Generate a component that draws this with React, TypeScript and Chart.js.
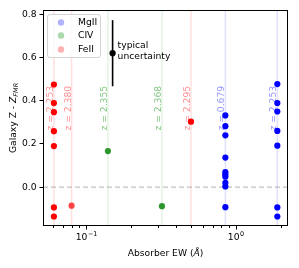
import React, { useEffect, useRef } from 'react';
import { Chart, registerables } from 'chart.js';
Chart.register(...registerables);

const FONT = "'DejaVu Sans', sans-serif";
const FS = 9.2;

// Axis limits
const X_MIN = 0.0513;
const X_MAX = 2.24;
const Y_MIN = -0.18;
const Y_MAX = 0.82;
const Y_TICKS = [0.0, 0.2, 0.4, 0.6, 0.8];
const X_MAJOR = [0.1, 1];
const X_MINOR = [0.06, 0.07, 0.08, 0.09, 0.2, 0.3, 0.4, 0.5, 0.6, 0.7, 0.8, 0.9, 2];
const X_MAJOR_EXP = ['\u22121', '0'];

// Absorbers (vertical lines + labels)
const absorberEW = [0.0607, 0.0797, 0.1395, 0.321, 0.502, 0.853, 1.9];
const absorberIon = ['FeII', 'FeII', 'CIV', 'CIV', 'FeII', 'MgII', 'MgII'];
const absorberZ = ['2.253', '2.380', '2.355', '2.368', '2.295', '0.679', '2.253'];
const LABEL_Y = 0.262;

// Galaxy points
const mgiiEW = [0.853, 0.853, 0.853, 0.853, 0.853, 0.853, 0.853, 0.853, 0.853, 0.853, 1.9, 1.9, 1.9, 1.9, 1.9, 1.9, 1.9];
const mgiiDZ = [0.332, 0.282, 0.24, 0.137, 0.069, 0.058, 0.048, 0.02, 0.003, -0.093, 0.477, 0.389, 0.35, 0.26, 0.192, -0.094, -0.136];
const civEW = [0.1395, 0.321];
const civDZ = [0.167, -0.088];
const feiiEW = [0.0607, 0.0607, 0.0607, 0.0607, 0.0607, 0.0607, 0.0607, 0.0797, 0.502];
const feiiDZ = [0.475, 0.389, 0.347, 0.259, 0.19, -0.094, -0.136, -0.086, 0.303];

// Typical uncertainty
const uncEW = 0.15;
const uncDZ = 0.62;
const uncErr = 0.153;

const legendLabels = ['MgII', 'CIV', 'FeII'];

const ionColor: Record<string, string> = { MgII: '0,0,255', CIV: '44,160,44', FeII: '255,0,0' };

const toPts = (xs: number[], ys: number[]) => xs.map((x, i) => ({ x, y: ys[i] }));

export default function App() {
  const ref = useRef<HTMLCanvasElement>(null);
  useEffect(() => {
    document.body.style.margin = '0';
    const canvas = ref.current!;

    const plugin = {
      id: 'custom',
      beforeDatasetsDraw(chart: any) {
        const ctx = chart.ctx;
        const xs = chart.scales.x, ys = chart.scales.y;
        ctx.save();
        ctx.font = `${FS}px ${FONT}`;
        ctx.textAlign = 'left';
        ctx.textBaseline = 'alphabetic';
        absorberEW.forEach((ew, i) => {
          const px = xs.getPixelForValue(ew);
          const py = ys.getPixelForValue(LABEL_Y);
          const c = ionColor[absorberIon[i]];
          const a = absorberIon[i] === 'CIV' ? 0.6 : 0.45;
          ctx.fillStyle = `rgba(${c},${a})`;
          ctx.save();
          ctx.translate(px - 1, py);
          ctx.rotate(-Math.PI / 2);
          ctx.fillText('z = ' + absorberZ[i], 0, 0);
          ctx.restore();
        });
        ctx.restore();
      },
      afterDraw(chart: any) {
        const ctx = chart.ctx;
        const xs = chart.scales.x, ys = chart.scales.y;
        const { left, right, top, bottom } = chart.chartArea;
        ctx.save();
        // uncertainty text
        ctx.fillStyle = '#000';
        ctx.font = `${FS}px ${FONT}`;
        ctx.textAlign = 'left';
        ctx.textBaseline = 'middle';
        const ux = xs.getPixelForValue(uncEW) + 5;
        const uy = ys.getPixelForValue(uncDZ);
        ctx.fillText('typical', ux, uy - 7.3);
        ctx.fillText('uncertainty', ux, uy + 3.7);

        // frame
        ctx.strokeStyle = '#000';
        ctx.lineWidth = 1;
        ctx.strokeRect(Math.round(left) + 0.5, Math.round(top) + 0.5, Math.round(right) - Math.round(left) - 1, Math.round(bottom) - Math.round(top) - 1);

        // x ticks
        const yb = Math.round(bottom);
        ctx.beginPath();
        X_MAJOR.forEach((v) => {
          const p = Math.round(xs.getPixelForValue(v)) + 0.5;
          ctx.moveTo(p, yb);
          ctx.lineTo(p, yb + 3.5);
        });
        X_MINOR.forEach((v) => {
          const p = Math.round(xs.getPixelForValue(v)) + 0.5;
          ctx.moveTo(p, yb);
          ctx.lineTo(p, yb + 2);
        });
        ctx.stroke();

        // x tick labels 10^e
        X_MAJOR.forEach((v, i) => {
          const p = xs.getPixelForValue(v);
          ctx.font = `${FS}px ${FONT}`;
          const w1 = ctx.measureText('10').width;
          ctx.font = `${FS * 0.7}px ${FONT}`;
          const w2 = ctx.measureText(X_MAJOR_EXP[i]).width;
          const x0 = p - (w1 + w2) / 2;
          const base = yb + 14;
          ctx.textAlign = 'left';
          ctx.textBaseline = 'alphabetic';
          ctx.font = `${FS}px ${FONT}`;
          ctx.fillText('10', x0, base);
          ctx.font = `${FS * 0.7}px ${FONT}`;
          ctx.fillText(X_MAJOR_EXP[i], x0 + w1 + 0.5, base - 4);
        });

        // x title
        {
          const parts = [
            { t: 'Absorber EW (', f: `${FS}px ${FONT}` },
            { t: '\u00c5', f: `italic ${FS}px ${FONT}` },
            { t: ')', f: `${FS}px ${FONT}` },
          ];
          let tw = 0;
          parts.forEach((p) => { ctx.font = p.f; tw += ctx.measureText(p.t).width; });
          let x = (left + right) / 2 - tw / 2;
          const base = 255.5;
          ctx.textBaseline = 'alphabetic';
          parts.forEach((p) => { ctx.font = p.f; ctx.fillText(p.t, x, base); x += ctx.measureText(p.t).width; });
        }

        // y title
        {
          const parts = [
            { t: 'Galaxy Z - ', f: `${FS}px ${FONT}`, dy: 0 },
            { t: 'Z', f: `italic ${FS}px ${FONT}`, dy: 0 },
            { t: 'FMR', f: `italic ${FS * 0.7}px ${FONT}`, dy: 2 },
          ];
          let tw = 0;
          parts.forEach((p) => { ctx.font = p.f; tw += ctx.measureText(p.t).width; });
          ctx.save();
          ctx.translate(15.5, (top + bottom) / 2);
          ctx.rotate(-Math.PI / 2);
          let x = -tw / 2;
          ctx.textBaseline = 'alphabetic';
          parts.forEach((p) => { ctx.font = p.f; ctx.fillText(p.t, x, p.dy); x += ctx.measureText(p.t).width; });
          ctx.restore();
        }

        // legend
        {
          const bx = 47.5, by = 14.5, bw = 53, bh = 43, r = 2.5;
          ctx.beginPath();
          ctx.moveTo(bx + r, by);
          ctx.arcTo(bx + bw, by, bx + bw, by + bh, r);
          ctx.arcTo(bx + bw, by + bh, bx, by + bh, r);
          ctx.arcTo(bx, by + bh, bx, by, r);
          ctx.arcTo(bx, by, bx + bw, by, r);
          ctx.closePath();
          ctx.fillStyle = 'rgba(255,255,255,0.8)';
          ctx.fill();
          ctx.strokeStyle = '#d3d3d3';
          ctx.lineWidth = 1;
          ctx.stroke();
          const rows = [22.5, 35.5, 49.5];
          const alphas = [0.3, 0.4, 0.3];
          legendLabels.forEach((lab, i) => {
            ctx.beginPath();
            ctx.arc(61, rows[i], 3.2, 0, Math.PI * 2);
            ctx.fillStyle = `rgba(${ionColor[lab]},${alphas[i]})`;
            ctx.fill();
            ctx.fillStyle = '#000';
            ctx.font = `${FS}px ${FONT}`;
            ctx.textAlign = 'left';
            ctx.textBaseline = 'middle';
            ctx.fillText(lab, 78, rows[i]);
          });
        }
        ctx.restore();
      },
    };

    const vlines = absorberEW.map((ew, i) => ({
      label: 'v' + i,
      data: [{ x: ew, y: Y_MIN }, { x: ew, y: Y_MAX }],
      showLine: true,
      borderColor: `rgba(${ionColor[absorberIon[i]]},0.12)`,
      borderWidth: 1.5,
      pointRadius: 0,
      order: 10,
    }));

    const chart = new Chart(canvas, {
      type: 'scatter',
      data: {
        datasets: [
          {
            label: 'MgII',
            data: toPts(mgiiEW, mgiiDZ),
            backgroundColor: 'rgb(0,0,255)',
            borderWidth: 0,
            pointRadius: 3.1,
            order: 1,
          },
          {
            label: 'CIV',
            data: toPts(civEW, civDZ),
            backgroundColor: 'rgb(44,150,44)',
            borderWidth: 0,
            pointRadius: 3.1,
            order: 1,
          },
          {
            label: 'FeII',
            data: toPts(feiiEW, feiiDZ),
            backgroundColor: (c: any) => (c.raw && c.raw.x === 0.0797 ? 'rgba(255,0,0,0.72)' : 'rgb(255,0,0)'),
            borderWidth: 0,
            pointRadius: 3.1,
            order: 1,
          },
          {
            label: 'unc',
            data: [{ x: uncEW, y: uncDZ - uncErr }, { x: uncEW, y: uncDZ + uncErr }],
            showLine: true,
            borderColor: '#000',
            borderWidth: 1.6,
            pointRadius: 0,
            order: 2,
          },
          {
            label: 'uncpt',
            data: [{ x: uncEW, y: uncDZ }],
            backgroundColor: '#000',
            borderWidth: 0,
            pointRadius: 3.1,
            order: 0,
          },
          {
            label: 'zero',
            data: [{ x: X_MIN, y: 0 }, { x: X_MAX, y: 0 }],
            showLine: true,
            borderColor: 'rgba(128,128,128,0.5)',
            borderWidth: 1.3,
            borderDash: [5, 3],
            pointRadius: 0,
            order: 5,
          },
          ...vlines,
        ] as any,
      },
      options: {
        responsive: false,
        devicePixelRatio: 1,
        animation: false,
        layout: { padding: { top: 10, right: 11, left: 0, bottom: 0 } },
        plugins: { legend: { display: false }, tooltip: { enabled: false } },
        scales: {
          x: {
            type: 'logarithmic',
            min: X_MIN,
            max: X_MAX,
            grid: { display: false },
            border: { display: false },
            ticks: { display: false },
            afterFit: (s: any) => { s.height = 42; },
          },
          y: {
            type: 'linear',
            min: Y_MIN,
            max: Y_MAX,
            afterBuildTicks: (s: any) => { s.ticks = Y_TICKS.map((v) => ({ value: v })); },
            grid: { display: true, drawOnChartArea: false, drawTicks: true, tickLength: 3.5, tickColor: '#000', tickWidth: 1 },
            border: { display: false },
            ticks: {
              color: '#000',
              font: { family: 'DejaVu Sans', size: FS },
              padding: 3,
              callback: (v: any) => Number(v).toFixed(1),
            },
            afterFit: (s: any) => { s.width = 43; },
          },
        },
      },
      plugins: [plugin],
    });
    return () => chart.destroy();
  }, []);
  return (
    <div style={{ position: 'absolute', left: 0, top: 0, width: 299, height: 268 }}>
      <canvas ref={ref} width={299} height={268} style={{ width: 299, height: 268, display: 'block' }} />
    </div>
  );
}
